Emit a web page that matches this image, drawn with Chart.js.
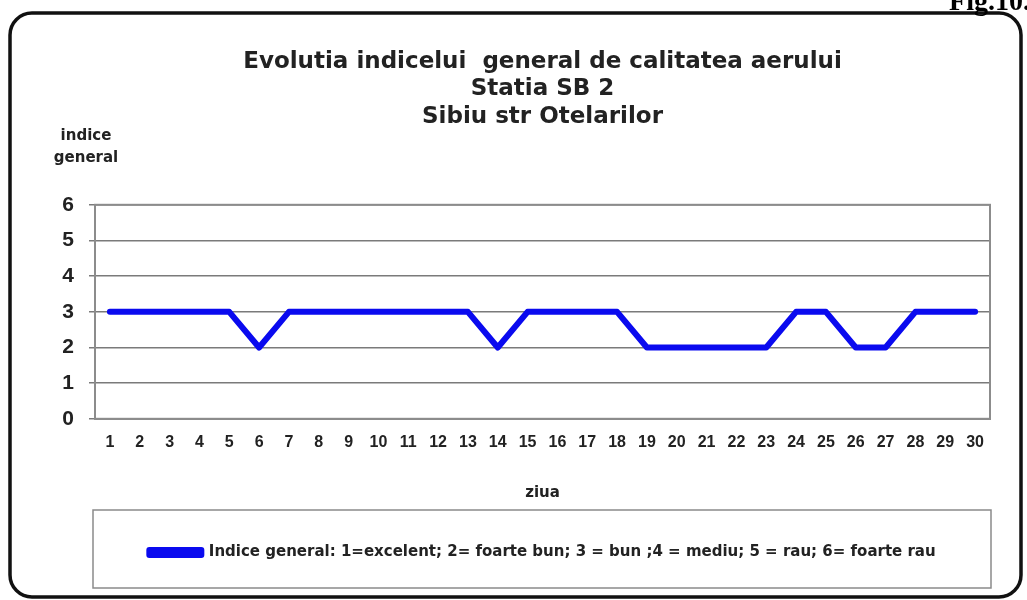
<!DOCTYPE html>
<html lang="ro">
<head>
    <meta charset="UTF-8">
    <title>Evolutia indicelui general de calitatea aerului</title>
    <script src="https://cdn.jsdelivr.net/npm/chart.js"></script>
    <style>
        body { margin: 0; background: #fff; }
        .wrap { width: 1027px; height: 600px; position: relative; }
    </style>
</head>
<body>
<div class="wrap"><canvas id="aerChart"></canvas></div>
<script>
    // zilele lunii si indicele general
    const zile = ["1","2","3","4","5","6","7","8","9","10","11","12","13","14","15",
                  "16","17","18","19","20","21","22","23","24","25","26","27","28","29","30"];
    const indice = [3,3,3,3,3,2,3,3,3,3,3,3,3,2,3,3,3,3,2,2,2,2,2,3,3,2,2,3,3,3];
    const yTicks = [0,1,2,3,4,5,6];

    const titlu = ["Evolutia indicelui  general de calitatea aerului", "Statia SB 2", "Sibiu str Otelarilor"];
    const eticheta = "Indice general: 1=excelent; 2= foarte bun; 3 = bun ;4 = mediu; 5 = rau; 6= foarte rau";
    const SANS = "'Liberation Sans', Arial, sans-serif";
    const WIDE = "'DejaVu Sans', Verdana, sans-serif";

    // rama, cadrul graficului, caseta legendei, texte extra
    const decor = {
        id: "decor",
        afterDraw(chart) {
            const c = chart.ctx, a = chart.chartArea;
            c.save();
            // cadrul zonei de desen
            c.strokeStyle = "#8c8c8c";
            c.lineWidth = 2;
            c.strokeRect(a.left, a.top, a.right - a.left, a.bottom - a.top);
            // caseta legendei
            c.strokeStyle = "#8a8a8a";
            c.lineWidth = 1.5;
            c.strokeRect(93, 510, 898, 78);
            // rama rotunjita
            c.strokeStyle = "#111";
            c.lineWidth = 3.5;
            c.beginPath();
            c.roundRect(10, 13, 1011, 584, 22);
            c.stroke();
            // eticheta axei y
            c.fillStyle = "#222";
            c.font = "bold 15px " + WIDE;
            c.textAlign = "center";
            c.textBaseline = "middle";
            c.fillText("indice", 86, 136);
            c.fillText("general", 86, 158);
            // Fig.10.
            c.font = "bold 28px 'Liberation Serif', 'DejaVu Serif', serif";
            c.textAlign = "right";
            c.textBaseline = "alphabetic";
            c.fillStyle = "#000";
            c.fillText("Fig.10.", 1030, 10);
            c.restore();
        }
    };

    new Chart(document.getElementById("aerChart"), {
        type: "line",
        data: {
            labels: zile,
            datasets: [{
                label: eticheta,
                data: indice,
                borderColor: "#0a0aef",
                backgroundColor: "#0a0aef",
                borderWidth: 6,
                pointRadius: 0,
                tension: 0,
                borderCapStyle: "round",
                borderJoinStyle: "round"
            }]
        },
        options: {
            responsive: true,
            maintainAspectRatio: false,
            animation: false,
            layout: { padding: { left: 20, right: 37, top: 0, bottom: 30 } },
            scales: {
                x: {
                    offset: true,
                    grid: { display: false, drawTicks: false },
                    border: { color: "#8c8c8c", width: 2 },
                    ticks: { color: "#222", font: { family: SANS, size: 16, weight: "bold" }, padding: 14, maxRotation: 0, autoSkip: false },
                    title: { display: true, text: "ziua", color: "#222", font: { family: WIDE, size: 15, weight: "bold" }, padding: { top: 18, bottom: 31 } }
                },
                y: {
                    min: 0,
                    max: 6,
                    afterFit(scale) { scale.width = 75; },
                    afterBuildTicks(scale) { scale.ticks = yTicks.map(v => ({ value: v })); },
                    grid: { color: "#7a7a7a", lineWidth: 1.5, drawTicks: true, tickLength: 6 },
                    border: { color: "#8c8c8c", width: 2 },
                    ticks: { color: "#222", font: { family: SANS, size: 21, weight: "bold" }, padding: 15 }
                }
            },
            plugins: {
                title: {
                    display: true,
                    fullSize: false,
                    text: titlu,
                    color: "#222",
                    font: { family: WIDE, size: 23, weight: "bold", lineHeight: 1.2 },
                    padding: { top: 48, bottom: 74 }
                },
                legend: {
                    position: "bottom",
                    fullSize: false,
                    labels: {
                        color: "#222",
                        boxWidth: 52,
                        boxHeight: 5,
                        padding: 12,
                        font: { family: WIDE, size: 15, weight: "bold" }
                    }
                },
                tooltip: { enabled: false }
            }
        },
        plugins: [decor]
    });
</script>
</body>
</html>
